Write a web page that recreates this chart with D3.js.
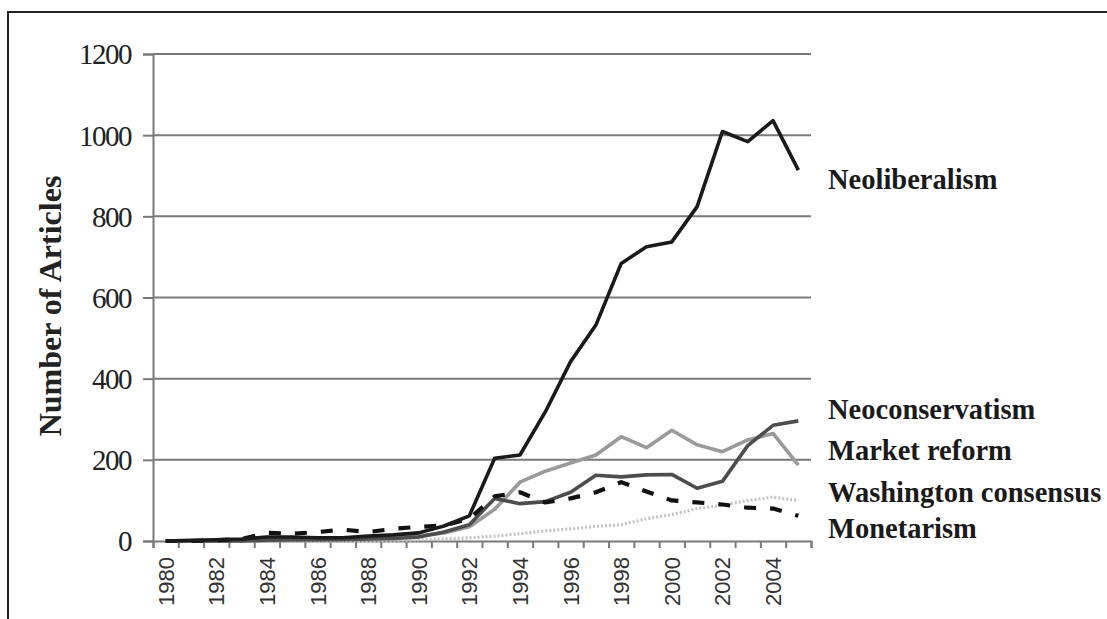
<!DOCTYPE html>
<html>
<head>
<meta charset="utf-8">
<script src="https://cdn.jsdelivr.net/npm/d3@7"></script>
<style>
  html, body { margin: 0; padding: 0; background: #fff; }
  svg { display: block; }
</style>
</head>
<body>
<script>
const years = d3.range(1980, 2006);
const yTicks = [0, 200, 400, 600, 800, 1000, 1200];
const xLabelYears = d3.range(1980, 2006, 2);

const neoliberalism = [0, 2, 3, 5, 10, 10, 8, 8, 12, 15, 20, 37, 62, 204, 212, 318, 442, 532, 684, 725, 737, 824, 1009, 984, 1036, 914];
const neoconservatism = [0, 0, 0, 0, 2, 3, 3, 4, 5, 6, 10, 22, 40, 105, 92, 97, 120, 162, 158, 163, 164, 130, 147, 235, 285, 296];
const marketReform = [0, 0, 0, 2, 3, 3, 4, 5, 6, 8, 12, 20, 35, 78, 145, 172, 192, 212, 257, 230, 273, 237, 220, 249, 265, 187];
const washington = [0, 0, 0, 0, 0, 0, 0, 0, 0, 1, 3, 5, 8, 12, 18, 25, 30, 36, 40, 55, 65, 80, 88, 100, 108, 100];
const monetarism = [0, 0, 2, 5, 20, 18, 22, 28, 22, 30, 35, 38, 55, 110, 120, 95, 105, 120, 145, 122, 100, 95, 90, 82, 80, 62];

const seriesNames = ["Neoliberalism", "Neoconservatism", "Market reform", "Washington consensus", "Monetarism"];
const seriesValues = [neoliberalism, neoconservatism, marketReform, washington, monetarism];
// label anchor, in article counts
const labelValues = [892, 325, 225, 121, 32];

const styles = [
    { color: "#1a1a1a", width: 3.6, dash: null },
    { color: "#4d4d4d", width: 3.6, dash: null },
    { color: "#9a9a9a", width: 3.6, dash: null },
    { color: "#c4c4c4", width: 3.2, dash: "2,2" },
    { color: "#111", width: 4.2, dash: "12,14" }
];

const W = 1107, H = 619;
const plotLeft = 153, plotRight = 811, plotTop = 54, plotBottom = 541;
const serif = "'Liberation Serif', 'Times New Roman', serif";
const sans = "'Liberation Sans', Arial, sans-serif";
const axisColor = "#7a7a7a";

const svg = d3.select("body").append("svg")
    .attr("width", W)
    .attr("height", H);

// outer frame
svg.append("rect")
    .attr("x", 8).attr("y", 12)
    .attr("width", W + 10).attr("height", H + 10)
    .attr("fill", "none")
    .attr("stroke", "#222")
    .attr("stroke-width", 2);

const x = d3.scaleBand().domain(years).range([plotLeft, plotRight]);
const xEdge = d3.scaleLinear().domain([0, years.length]).range([plotLeft, plotRight]);
const y = d3.scaleLinear().domain([0, 1200]).range([plotBottom, plotTop]);

// gridlines
svg.append("g")
    .selectAll("line")
    .data(yTicks.slice(1))
    .enter()
    .append("line")
    .attr("x1", plotLeft).attr("x2", plotRight)
    .attr("y1", d => y(d)).attr("y2", d => y(d))
    .attr("stroke", axisColor)
    .attr("stroke-width", 2);

// y axis
const yAxis = svg.append("g")
    .attr("transform", `translate(${plotLeft},0)`)
    .call(d3.axisLeft(y).tickValues(yTicks).tickFormat(d3.format("d")).tickSize(10).tickPadding(12));
yAxis.select(".domain").attr("stroke", axisColor).attr("stroke-width", 2);
yAxis.selectAll(".tick line").attr("stroke", axisColor).attr("stroke-width", 2);
yAxis.selectAll(".tick text")
    .attr("fill", "#222")
    .style("font-family", serif)
    .style("font-size", "29px")
    .style("letter-spacing", "-1.5px")
    .attr("dy", "0.34em");

// x axis ticks on category edges
const xAxis = svg.append("g")
    .attr("transform", `translate(0,${plotBottom})`)
    .call(d3.axisBottom(xEdge).tickValues(d3.range(0, years.length + 1)).tickSize(7).tickFormat(""));
xAxis.select(".domain").attr("stroke", axisColor).attr("stroke-width", 2);
xAxis.selectAll(".tick line").attr("stroke", axisColor).attr("stroke-width", 2);

svg.append("g")
    .selectAll("text")
    .data(xLabelYears)
    .enter()
    .append("text")
    .attr("transform", d => `translate(${x(d) + x.bandwidth() / 2 + 8},${plotBottom + 16}) rotate(-90)`)
    .attr("text-anchor", "end")
    .attr("fill", "#333")
    .style("font-family", sans)
    .style("font-size", "22px")
    .text(d => d);

// y axis title
svg.append("text")
    .attr("transform", `translate(61,306) rotate(-90)`)
    .attr("text-anchor", "middle")
    .attr("fill", "#222")
    .style("font-family", serif)
    .style("font-weight", "bold")
    .style("font-size", "32px")
    .text("Number of Articles");

// lines
const line = d3.line()
    .x((d, i) => x(years[i]) + x.bandwidth() / 2)
    .y(d => y(d));

const order = [3, 2, 1, 4, 0];
svg.append("g")
    .selectAll("path")
    .data(order)
    .enter()
    .append("path")
    .attr("d", i => line(seriesValues[i]))
    .attr("fill", "none")
    .attr("stroke", i => styles[i].color)
    .attr("stroke-width", i => styles[i].width)
    .attr("stroke-dasharray", i => styles[i].dash)
    .attr("stroke-linejoin", "round");

// series labels
svg.append("g")
    .selectAll("text")
    .data(seriesNames)
    .enter()
    .append("text")
    .attr("x", plotRight + 17)
    .attr("y", (d, i) => y(labelValues[i]))
    .attr("dy", "0.35em")
    .attr("fill", "#1a1a1a")
    .style("font-family", serif)
    .style("font-weight", "bold")
    .style("font-size", "28.5px")
    .text(d => d);
</script>
</body>
</html>
